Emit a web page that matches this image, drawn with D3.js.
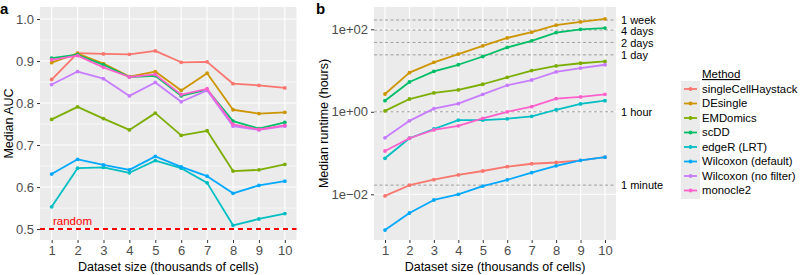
<!DOCTYPE html>
<html><head><meta charset="utf-8">
<script src="https://cdn.jsdelivr.net/npm/d3@7"></script>
<style>body{margin:0;background:#fff;} text{font-family:"Liberation Sans",Arial,sans-serif;}</style>
</head><body>
<svg id="chart" width="800" height="275"></svg>
<script>
const datasetSizes = [1,2,3,4,5,6,7,8,9,10];
const methods = ["singleCellHaystack","DEsingle","EMDomics","scDD","edgeR (LRT)","Wilcoxon (default)","Wilcoxon (no filter)","monocle2"];
const colors = ["#F8766D","#CD9600","#7CAE00","#00BE67","#00BFC4","#00A9FF","#C77CFF","#FF61CC"];

// Panel a: median AUC
const aucSingleCellHaystack = [0.856,0.919,0.917,0.916,0.924,0.897,0.898,0.846,0.842,0.836];
const aucDEsingle          = [0.896,0.918,0.894,0.863,0.875,0.830,0.871,0.784,0.775,0.778];
const aucEMDomics          = [0.761,0.791,0.763,0.736,0.776,0.723,0.734,0.638,0.641,0.654];
const aucScDD              = [0.907,0.915,0.891,0.862,0.865,0.817,0.832,0.757,0.739,0.754];
const aucEdgeR             = [0.553,0.645,0.647,0.634,0.663,0.645,0.610,0.509,0.524,0.537];
const aucWilcoxDefault     = [0.631,0.666,0.653,0.641,0.673,0.648,0.626,0.585,0.604,0.614];
const aucWilcoxNoFilter    = [0.844,0.875,0.858,0.817,0.849,0.803,0.830,0.745,0.736,0.745];
const aucMonocle2          = [0.903,0.913,0.885,0.862,0.868,0.820,0.834,0.749,0.737,0.747];

// Panel b: median runtime (hours)
const rtSingleCellHaystack = [0.00912,0.0166,0.0226,0.0295,0.0367,0.0468,0.0550,0.0589,0.0667,0.0794];
const rtDEsingle           = [2.70,8.87,15.8,25.1,39.8,61.7,85.1,126,151,178];
const rtEMDomics           = [1.05,2.04,2.86,3.39,4.65,6.85,10.0,12.9,15.0,16.6];
const rtScDD               = [1.86,5.27,9.55,13.8,21.9,36.3,52.5,83.2,100,107];
const rtEdgeR              = [0.0746,0.228,0.383,0.631,0.631,0.676,0.776,1.12,1.55,1.86];
const rtWilcoxDefault      = [0.00136,0.00352,0.00728,0.0100,0.0158,0.0224,0.0334,0.0490,0.0667,0.0794];
const rtWilcoxNoFilter     = [0.234,0.603,1.19,1.57,2.65,4.39,5.89,9.23,11.5,13.8];
const rtMonocle2           = [0.112,0.228,0.363,0.457,0.695,1.0,1.33,2.08,2.29,2.65];

const aucTicks = [0.5,0.6,0.7,0.8,0.9,1.0];
const aucMinor = [0.55,0.65,0.75,0.85,0.95];
const rtTicks = [1e-2,1,1e2];
const rtTickLabels = ["1e\u221202","1e+00","1e+02"];
const refHours = [168,96,48,24,1,1/60];
const refLabels = ["1 week","4 days","2 days","1 day","1 hour","1 minute"];
const randomAUC = 0.5;

const aucSeries = [aucSingleCellHaystack,aucDEsingle,aucEMDomics,aucScDD,aucEdgeR,aucWilcoxDefault,aucWilcoxNoFilter,aucMonocle2];
const rtSeries = [rtSingleCellHaystack,rtDEsingle,rtEMDomics,rtScDD,rtEdgeR,rtWilcoxDefault,rtWilcoxNoFilter,rtMonocle2];

const svg = d3.select("#chart");
const textCol = "#4D4D4D";

function panel(x0, x1, y0, y1, xScale, yScale, yTicks, yLabels, yMinor, yTitle, titleX, tag, tagX){
  const g = svg.append("g");
  g.append("rect").attr("x",x0).attr("y",y0).attr("width",x1-x0).attr("height",y1-y0).attr("fill","#EBEBEB");
  if (yMinor) yMinor.forEach(v=>{
    g.append("line").attr("x1",x0).attr("x2",x1).attr("y1",yScale(v)).attr("y2",yScale(v)).attr("stroke","#fff").attr("stroke-width",0.55);
  });
  yTicks.forEach(v=>{
    g.append("line").attr("x1",x0).attr("x2",x1).attr("y1",yScale(v)).attr("y2",yScale(v)).attr("stroke","#fff").attr("stroke-width",1.1);
  });
  datasetSizes.forEach(v=>{
    g.append("line").attr("x1",xScale(v)).attr("x2",xScale(v)).attr("y1",y0).attr("y2",y1).attr("stroke","#fff").attr("stroke-width",1.1);
  });
  const ax = d3.axisBottom(xScale).tickValues(datasetSizes).tickSize(3).tickPadding(3).tickFormat(d3.format("d"));
  const xa = g.append("g").attr("transform",`translate(0,${y1})`).call(ax);
  const ay = d3.axisLeft(yScale).tickValues(yTicks).tickSize(3).tickPadding(3).tickFormat((d,i)=>yLabels[i]);
  const ya = g.append("g").attr("transform",`translate(${x0},0)`).call(ay);
  [xa,ya].forEach(a=>{
    a.select(".domain").remove();
    a.selectAll("line").attr("stroke","#333");
    a.selectAll("text").attr("fill",textCol).attr("font-size",13).attr("font-family","Liberation Sans, Arial, sans-serif");
  });
  g.append("text").attr("x",(x0+x1)/2).attr("y",271).attr("text-anchor","middle").attr("font-size",12.5).attr("fill","#000").text("Dataset size (thousands of cells)");
  g.append("text").attr("transform",`translate(${titleX},${(y0+y1)/2}) rotate(-90)`).attr("text-anchor","middle").attr("font-size",12.5).attr("fill","#000").text(yTitle);
  g.append("text").attr("x",tagX).attr("y",14).attr("font-size",15).attr("font-weight","bold").text(tag);
  return g;
}

function drawSeries(g, xScale, yScale, series){
  const line = d3.line().x((d,i)=>xScale(datasetSizes[i])).y(d=>yScale(d));
  series.forEach((s,k)=>{
    g.append("path").datum(s).attr("d",line).attr("fill","none").attr("stroke",colors[k]).attr("stroke-width",1.8).attr("stroke-linejoin","round");
    g.selectAll(null).data(s).enter().append("circle").attr("cx",(d,i)=>xScale(datasetSizes[i])).attr("cy",d=>yScale(d)).attr("r",1.9).attr("fill",colors[k]);
  });
}

// Panel a
const xA = d3.scaleLinear().domain([0.55,10.45]).range([40,296.5]);
const yA = d3.scaleLinear().domain([0.474,1.0286]).range([240,7]);
const gA = panel(40,296.5,7,240,xA,yA,aucTicks,aucTicks.map(d3.format(".1f")),aucMinor,"Median AUC",12.5,"a",0);
gA.append("line").attr("x1",40).attr("x2",296.5).attr("y1",yA(randomAUC)).attr("y2",yA(randomAUC)).attr("stroke","#FF0000").attr("stroke-width",2).attr("stroke-dasharray","5,4");
gA.append("text").attr("x",53).attr("y",yA(randomAUC)-4).attr("fill","#FF0000").attr("font-size",11.5).text("random");
drawSeries(gA,xA,yA,aucSeries);

// Panel b
const xB = d3.scaleLinear().domain([0.55,10.45]).range([374,616]);
const yB = d3.scaleLog().domain([Math.pow(10,-3.108),Math.pow(10,2.54)]).range([240,7]);
const gB = panel(374,616,7,240,xB,yB,rtTicks,rtTickLabels,null,"Median runtime (hours)",328,"b",316);
const labelNudge = [0,1.5,1,0,0,0];
refHours.forEach((h,i)=>{
  gB.append("line").attr("x1",374).attr("x2",616).attr("y1",yB(h)).attr("y2",yB(h)).attr("stroke","#9E9E9E").attr("stroke-width",1).attr("stroke-dasharray","3,2.5");
  gB.append("text").attr("x",621).attr("y",yB(h)+labelNudge[i]).attr("dy","0.35em").attr("font-size",11).attr("fill","#000").text(refLabels[i]);
});
drawSeries(gB,xB,yB,rtSeries);

// Legend
const lg = svg.append("g");
lg.append("text").attr("x",702).attr("y",78).attr("font-size",11.5).attr("fill","#000").attr("text-decoration","underline").text("Method");
const rowY = d3.scaleLinear().domain([0,7]).range([89,190.5]);
lg.append("rect").attr("x",681).attr("y",81).attr("width",19).attr("height",118).attr("fill","#EBEBEB");
methods.forEach((m,i)=>{
  const y = rowY(i);
  lg.append("line").attr("x1",684).attr("x2",697).attr("y1",y).attr("y2",y).attr("stroke",colors[i]).attr("stroke-width",1.8);
  lg.append("circle").attr("cx",690.5).attr("cy",y).attr("r",1.9).attr("fill",colors[i]);
  lg.append("text").attr("x",702).attr("y",y).attr("dy","0.35em").attr("font-size",11.3).attr("fill","#000").text(m);
});
</script>
</body></html>
